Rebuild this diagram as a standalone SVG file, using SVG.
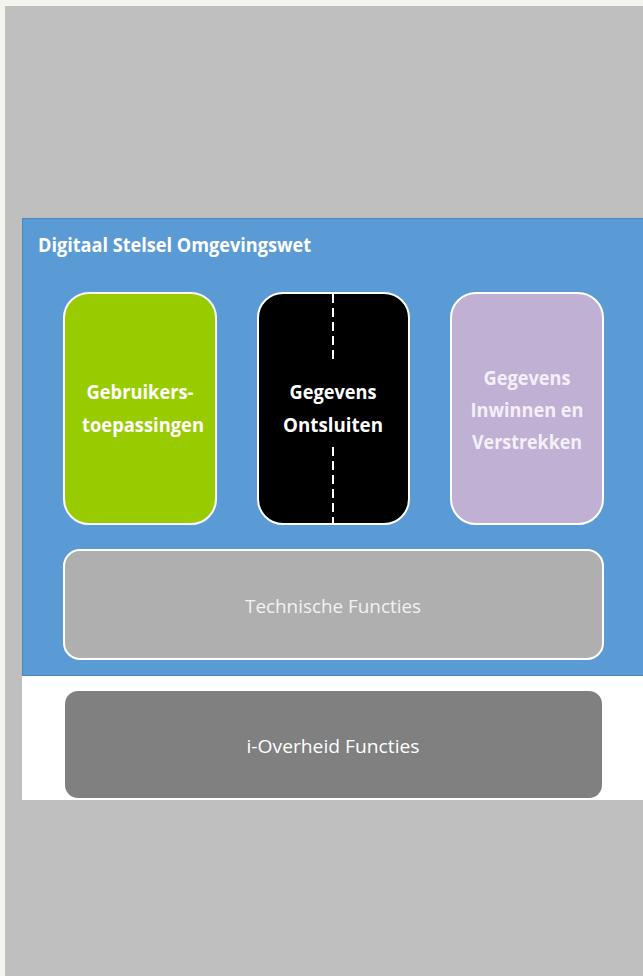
<svg xmlns="http://www.w3.org/2000/svg" width="643" height="976" viewBox="0 0 643 976">
<style>
.t{font-family:"Open Sans","Liberation Sans",sans-serif;fill:#FFFFFF;text-anchor:middle}
.b{font-weight:bold;font-size:20px}
.n{font-size:19px;fill:#F2F2F2}
.box{stroke:#FFFFFF;stroke-width:2}
</style>
<rect x="0" y="0" width="643" height="976" fill="#F4F4EE"/>
<rect x="5" y="6" width="638" height="970" fill="#BFBFBF"/>
<g id="panel">
<rect x="22" y="218" width="621" height="582" fill="#FFFFFF"/>
<rect x="22.5" y="218.5" width="621" height="457" fill="#5B9BD5" stroke="#4A86C0" stroke-width="1"/>
<text x="38" y="252" class="t" style="text-anchor:start;font-weight:bold;font-size:20px" textLength="273" lengthAdjust="spacingAndGlyphs">Digitaal Stelsel Omgevingswet</text>
</g>
<g id="gebruikers">
<rect x="64" y="293" width="152" height="231" rx="25" fill="#99CC00" class="box"/>
<text x="140" y="399" class="t b" textLength="107" lengthAdjust="spacingAndGlyphs">Gebruikers-</text>
<text x="143" y="432" class="t b" textLength="122" lengthAdjust="spacingAndGlyphs">toepassingen</text>
</g>
<g id="ontsluiten">
<rect x="258" y="293" width="151" height="231" rx="25" fill="#000000" class="box"/>
<line x1="333" y1="294" x2="333" y2="360" stroke="#FFFFFF" stroke-width="2" stroke-dasharray="9,5"/>
<line x1="333" y1="447" x2="333" y2="523" stroke="#FFFFFF" stroke-width="2" stroke-dasharray="9,5"/>
<text x="333" y="399" class="t b" textLength="87" lengthAdjust="spacingAndGlyphs">Gegevens</text>
<text x="333" y="432" class="t b" textLength="100" lengthAdjust="spacingAndGlyphs">Ontsluiten</text>
</g>
<g id="inwinnen">
<rect x="451" y="293" width="152" height="231" rx="25" fill="#C0B0D4" class="box"/>
<text x="527" y="385" class="t b" style="fill:#F4F0F8" textLength="87" lengthAdjust="spacingAndGlyphs">Gegevens</text>
<text x="527" y="417" class="t b" style="fill:#F4F0F8" textLength="113" lengthAdjust="spacingAndGlyphs">Inwinnen en</text>
<text x="527" y="449" class="t b" style="fill:#F4F0F8" textLength="110" lengthAdjust="spacingAndGlyphs">Verstrekken</text>
</g>
<g id="technisch">
<rect x="64" y="550" width="539" height="109" rx="16" fill="#AFAFAF" class="box"/>
<text x="333" y="613" class="t n" textLength="176" lengthAdjust="spacingAndGlyphs">Technische Functies</text>
</g>
<g id="ioverheid">
<rect x="65" y="691" width="537" height="107" rx="13" fill="#808080"/>
<text x="333" y="753" class="t n" style="fill:#FFFFFF" textLength="173" lengthAdjust="spacingAndGlyphs">i-Overheid Functies</text>
</g>
<g id="connectors"></g>
</svg>
